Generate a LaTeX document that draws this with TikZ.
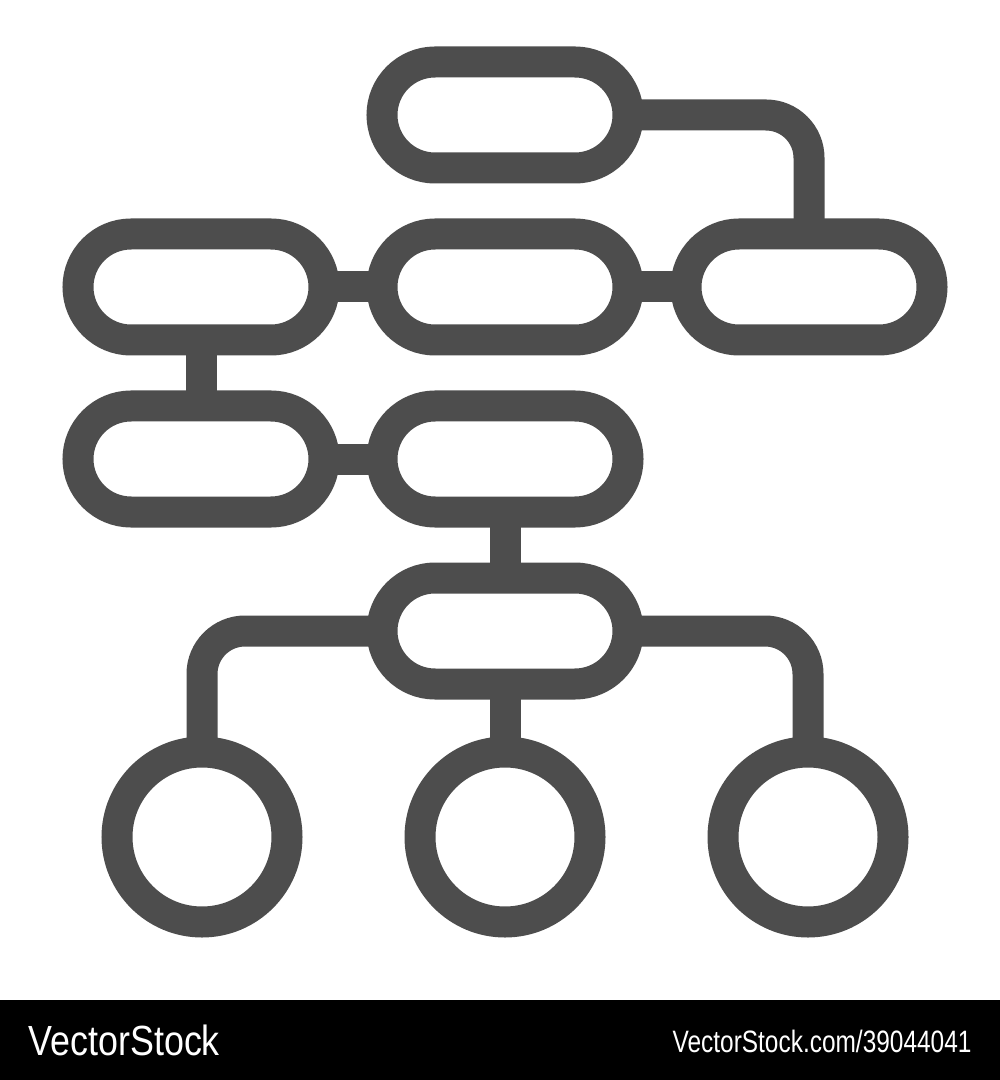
\documentclass[tikz,border=0pt]{standalone}
\usepackage{fontspec}
\setmainfont{Liberation Sans}
\usetikzlibrary{positioning}
\definecolor{icongray}{HTML}{4D4D4D}
\begin{document}
\begin{tikzpicture}[pill/.style = {draw=icongray, line width=3.1mm, rectangle, rounded corners=5.3mm, minimum width=24.6mm, minimum height=10.6mm, inner sep=0pt},
                    leaf/.style = {draw=icongray, line width=3.1mm, circle, minimum size=17mm, inner sep=0pt},
                    link/.style = {draw=icongray, line width=3.1mm, rounded corners=4.3mm, shorten <=-2.5mm, shorten >=-2.5mm},
                    node distance=3.5mm and 2.7mm]
    \useasboundingbox (0,0) rectangle (10,-10.8);
    \node[pill] (r1) at (2.01,-2.87) {};
    \node[pill] (r2) [right=of r1] {};
    \node[pill] (r3) [right=of r2] {};
    \node[pill] (top) [above=of r2] {};
    \node[pill] (a1) [below=of r1] {};
    \node[pill] (a2) [right=of a1] {};
    \node[pill] (p4) [below=of a2] {};
    \node[leaf] (c2) [below=3.7mm of p4] {};
    \node[leaf] (c1) [left=10.2mm of c2] {};
    \node[leaf] (c3) [right=10.2mm of c2] {};
    \draw[link] (top.east) -| (r3.north);
    \draw[link] (r1.east) -- (r2.west);
    \draw[link] (r2.east) -- (r3.west);
    \draw[link] (r1.south) -- (a1.north);
    \draw[link] (a1.east) -- (a2.west);
    \draw[link] (a2.south) -- (p4.north);
    \draw[link] (p4.west) -| (c1.north);
    \draw[link] (p4.south) -- (c2.north);
    \draw[link] (p4.east) -| (c3.north);
    % bottom bar
    \fill[black] (0,-10.0) rectangle (10,-10.8);
    \node[text=white, font=\fontsize{12}{14}\selectfont, anchor=west, xscale=0.85, inner sep=0pt] (brand) at (0.28,-10.4) {VectorStock};
    \node[text=white, font=\fontsize{8.8}{10}\selectfont, anchor=east, xscale=0.79, inner sep=0pt] (link) at (9.72,-10.41) {VectorStock.com/39044041};
\end{tikzpicture}
\end{document}
